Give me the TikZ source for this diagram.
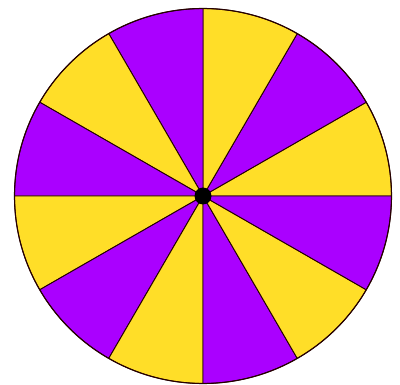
\documentclass[tikz,border=0pt]{standalone}
\definecolor{spinyellow}{RGB}{255,222,40}
\definecolor{spinpurple}{RGB}{170,0,255}
\begin{document}
\begin{tikzpicture}[x=1pt,y=-1pt,
  sector/.style={draw=black!85!red,line width=0.9pt,line join=round}]
\useasboundingbox (0,0) rectangle (400,385);
\fill[white] (0,0) rectangle (400,385);
\coordinate (c) at (203,196);
\foreach \k in {0,...,11}{
  \pgfmathsetmacro{\a}{30*\k}
  \pgfmathtruncatemacro{\odd}{mod(\k,2)}
  \ifnum\odd=0 \def\col{spinyellow}\else\def\col{spinpurple}\fi
  \filldraw[sector,fill=\col] (c) -- ++(\a:188.5 and -187.5) arc[start angle=\a,end angle=\a+30,x radius=188.5,y radius=-187.5] -- cycle;
}
\draw[line width=1.1pt,black!85!red] (c) ellipse[x radius=188.5,y radius=187.5];
\node[circle,fill=black,minimum size=17pt,inner sep=0pt] (hub) at (c) {};
\end{tikzpicture}
\end{document}
